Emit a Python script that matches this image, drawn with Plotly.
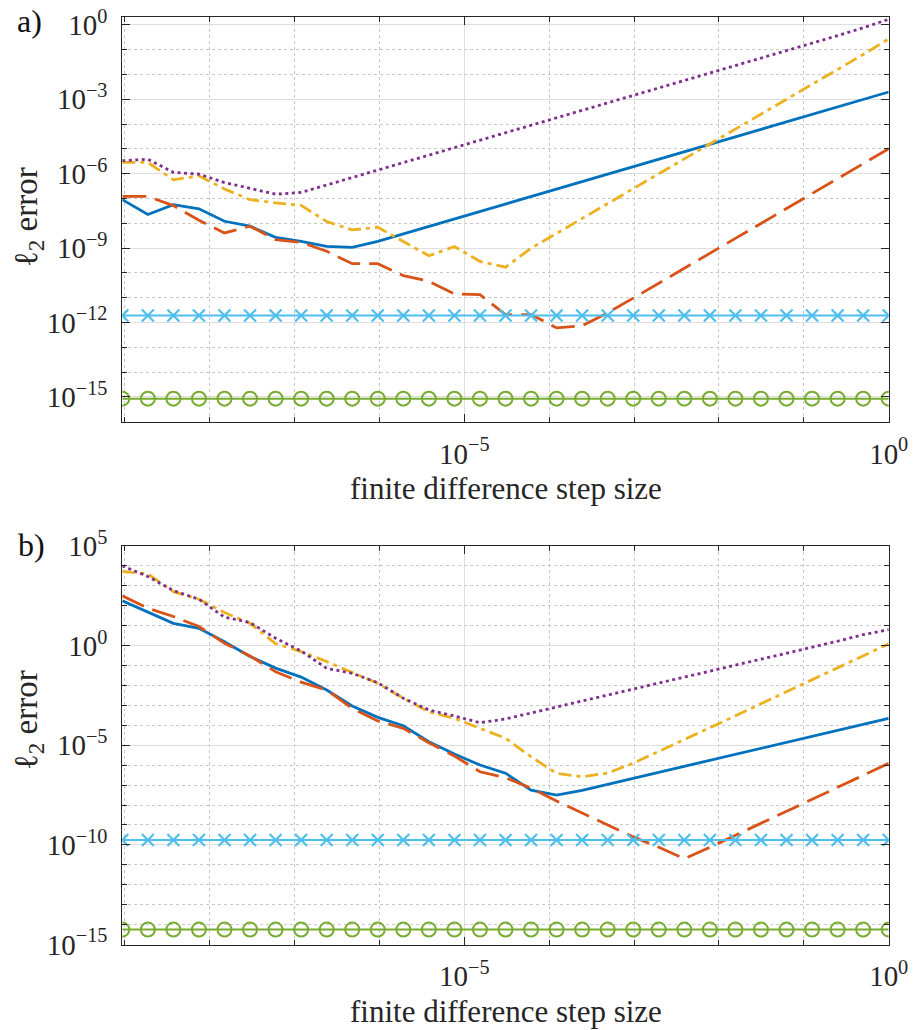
import numpy as np
import plotly.graph_objects as go

# ---------------- data ----------------
# finite difference step sizes h = 2^p
step_pow2 = [-30, -29, -28, -27, -26, -25, -24, -23, -22, -21, -20, -19, -18, -17, -16,
             -15, -14, -13, -12, -11, -10, -9, -8, -7, -6, -5, -4, -3, -2, -1, 0]

# panel a) log10 of l2 error
a_blue = [-7.05, -7.65, -7.25, -7.42, -7.92, -8.12, -8.57, -8.73, -8.93, -8.97, -8.73, -8.43,
          -8.13, -7.83, -7.53, -7.23, -6.93, -6.62, -6.32, -6.02, -5.72, -5.42, -5.12, -4.82,
          -4.52, -4.22, -3.92, -3.62, -3.31, -3.01, -2.71]
a_orange = [-6.92, -6.92, -7.29, -7.88, -8.39, -8.12, -8.66, -8.77, -9.13, -9.63, -9.63, -10.11,
            -10.34, -10.85, -10.88, -11.68, -11.68, -12.22, -12.13, -11.61, -11.02, -10.41, -9.81,
            -9.21, -8.61, -8.01, -7.40, -6.80, -6.20, -5.60, -5.00]
a_yellow = [-5.55, -5.55, -6.25, -6.09, -6.62, -7.05, -7.18, -7.28, -7.93, -8.27, -8.16, -8.74,
            -9.31, -8.94, -9.54, -9.77, -9.01, -8.41, -7.81, -7.21, -6.61, -6.01, -5.40, -4.80,
            -4.20, -3.60, -3.00, -2.40, -1.80, -1.20, -0.57]
a_purple = [-5.48, -5.42, -5.95, -6.02, -6.36, -6.58, -6.83, -6.76, -6.46, -6.16, -5.86, -5.56,
            -5.26, -4.96, -4.66, -4.36, -4.06, -3.76, -3.46, -3.16, -2.86, -2.56, -2.26, -1.96,
            -1.66, -1.36, -1.06, -0.75, -0.44, -0.12, 0.22]
a_lightblue = [-11.72, -11.72, -11.72, -11.72, -11.72, -11.72, -11.72, -11.72, -11.72, -11.72,
               -11.72, -11.72, -11.72, -11.72, -11.72, -11.72, -11.72, -11.72, -11.72, -11.72,
               -11.72, -11.72, -11.72, -11.72, -11.72, -11.72, -11.72, -11.72, -11.72, -11.72,
               -11.72]
a_green = [-15.07, -15.07, -15.07, -15.07, -15.07, -15.07, -15.07, -15.07, -15.07, -15.07,
           -15.07, -15.07, -15.07, -15.07, -15.07, -15.07, -15.07, -15.07, -15.07, -15.07,
           -15.07, -15.07, -15.07, -15.07, -15.07, -15.07, -15.07, -15.07, -15.07, -15.07,
           -15.07]

# panel b) log10 of l2 error
b_blue = [2.25, 1.68, 1.12, 0.87, 0.19, -0.55, -1.13, -1.58, -2.23, -3.03, -3.60, -4.02,
          -4.82, -5.44, -5.99, -6.40, -7.25, -7.50, -7.26, -6.96, -6.66, -6.36, -6.05, -5.75,
          -5.45, -5.15, -4.85, -4.55, -4.25, -3.95, -3.65]
b_orange = [2.50, 1.88, 1.46, 0.96, 0.12, -0.52, -1.31, -1.83, -2.23, -3.15, -3.78, -4.15,
            -4.87, -5.54, -6.33, -6.63, -7.15, -7.80, -8.40, -9.00, -9.60, -10.12, -10.70,
            -10.12, -9.52, -8.92, -8.31, -7.71, -7.11, -6.51, -5.91]
b_yellow = [3.72, 3.60, 2.71, 2.33, 1.66, 1.12, 0.10, -0.30, -0.80, -1.36, -1.89, -2.64,
            -3.32, -3.65, -4.15, -4.65, -5.58, -6.41, -6.58, -6.40, -5.90, -5.32, -4.72,
            -4.12, -3.52, -2.92, -2.32, -1.72, -1.11, -0.51, 0.09]
b_purple = [4.00, 3.47, 2.76, 2.33, 1.43, 1.16, 0.37, -0.27, -1.14, -1.39, -1.86, -2.64,
            -3.23, -3.53, -3.87, -3.68, -3.38, -3.08, -2.80, -2.50, -2.20, -1.90, -1.60,
            -1.30, -1.00, -0.70, -0.40, -0.10, 0.22, 0.55, 0.80]
b_lightblue = [-9.76, -9.76, -9.76, -9.76, -9.76, -9.76, -9.76, -9.76, -9.76, -9.76, -9.76,
               -9.76, -9.76, -9.76, -9.76, -9.76, -9.76, -9.76, -9.76, -9.76, -9.76, -9.76,
               -9.76, -9.76, -9.76, -9.76, -9.76, -9.76, -9.76, -9.76, -9.76]
b_green = [-14.25, -14.25, -14.25, -14.25, -14.25, -14.25, -14.25, -14.25, -14.25, -14.25,
           -14.25, -14.25, -14.25, -14.25, -14.25, -14.25, -14.25, -14.25, -14.25, -14.25,
           -14.25, -14.25, -14.25, -14.25, -14.25, -14.25, -14.25, -14.25, -14.25, -14.25,
           -14.25]

x_major = [1e-5, 1.0]
x_major_text = ['10<sup>−5</sup>', '10<sup>0</sup>']
a_y_major_exp = [0, -3, -6, -9, -12, -15]
b_y_major_exp = [5, 0, -5, -10, -15]

# ---------------- figure ----------------
h = np.power(2.0, step_pow2)

C_BLUE = '#0072BD'
C_ORANGE = '#D95319'
C_YELLOW = '#EDB120'
C_PURPLE = '#7E2F8E'
C_LBLUE = '#4DBEEE'
C_GREEN = '#77AC30'
AX = '#262626'
FONT = 'Liberation Serif'

W, H = 914, 1030


def px_x(x):
    return x / W


def px_y(y):
    return 1 - y / H


def add_panel(fig, xa, ya, blue, orange, yellow, purple, lblue, green):
    kw = dict(xaxis=xa, yaxis=ya, showlegend=False, hoverinfo='skip')
    fig.add_trace(go.Scatter(x=h, y=np.power(10.0, blue), mode='lines',
                             line=dict(color=C_BLUE, width=2.8), **kw))
    fig.add_trace(go.Scatter(x=h, y=np.power(10.0, orange), mode='lines',
                             line=dict(color=C_ORANGE, width=2.8, dash='24px,9px'), **kw))
    fig.add_trace(go.Scatter(x=h, y=np.power(10.0, yellow), mode='lines',
                             line=dict(color=C_YELLOW, width=2.8, dash='13px,5px,4px,5px'), **kw))
    fig.add_trace(go.Scatter(x=h, y=np.power(10.0, purple), mode='lines',
                             line=dict(color=C_PURPLE, width=2.8, dash='3px,3.5px'), **kw))
    fig.add_trace(go.Scatter(x=h, y=np.power(10.0, lblue), mode='lines+markers',
                             line=dict(color=C_LBLUE, width=2),
                             marker=dict(symbol='x-thin', size=12,
                                         line=dict(color=C_LBLUE, width=2.2)), **kw))
    fig.add_trace(go.Scatter(x=h, y=np.power(10.0, green), mode='lines+markers',
                             line=dict(color=C_GREEN, width=2),
                             marker=dict(symbol='circle-open', size=14, color=C_GREEN,
                                         line=dict(color=C_GREEN, width=2)), **kw))


fig = go.Figure()
add_panel(fig, 'x', 'y', a_blue, a_orange, a_yellow, a_purple, a_lightblue, a_green)
add_panel(fig, 'x2', 'y2', b_blue, b_orange, b_yellow, b_purple, b_lightblue, b_green)

x_dom = [px_x(122.3), px_x(888.7)]
a_dom = [px_y(421.7), px_y(17.3)]
b_dom = [px_y(944.5), px_y(546.0)]

tickfont = dict(family=FONT, size=29, color=AX)
x_minor_vals = [10.0 ** e for e in range(-9, 0) if e != -5]


def xaxis_dict(anchor):
    return dict(type='log', domain=x_dom, anchor=anchor, automargin=False,
                range=[np.log10(2.0 ** -30), 0], ticklabeloverflow='allow',
                tickmode='array', tickvals=x_major, ticktext=x_major_text,
                ticks='inside', ticklen=8, tickcolor=AX, tickwidth=1,
                showline=True, linecolor=AX, linewidth=1, mirror='ticks',
                showgrid=True, gridcolor='#dedede', gridwidth=1.2, zeroline=False,
                tickfont=tickfont, ticklabelstandoff=6,
                minor=dict(tickmode='array', tickvals=x_minor_vals, ticks='inside',
                           ticklen=5, tickcolor=AX, tickwidth=1, showgrid=True,
                           gridcolor='#c8c8c8', gridwidth=1, griddash='3px,3px'))


def yaxis_dict(anchor, dom, rng, major_exp):
    lo, hi = int(np.floor(rng[0])), int(np.ceil(rng[1]))
    minor_vals = [10.0 ** e for e in range(lo, hi + 1) if e not in major_exp]
    return dict(type='log', domain=dom, anchor=anchor, range=rng, automargin=False,
                ticklabeloverflow='allow',
                tickmode='array', tickvals=[10.0 ** e for e in major_exp],
                ticktext=['10<sup>%s</sup>' % (str(e).replace('-', '−')) for e in major_exp],
                ticks='inside', ticklen=8, tickcolor=AX, tickwidth=1,
                showline=True, linecolor=AX, linewidth=1, mirror='ticks',
                showgrid=True, gridcolor='#dedede', gridwidth=1.2, zeroline=False,
                tickfont=tickfont, ticklabelstandoff=8,
                minor=dict(tickmode='array', tickvals=minor_vals, ticks='inside',
                           ticklen=5, tickcolor=AX, tickwidth=1, showgrid=True,
                           gridcolor='#c8c8c8', gridwidth=1, griddash='3px,3px'))


fig.update_layout(
    template='none',
    width=W, height=H,
    margin=dict(l=0, r=0, t=0, b=0, autoexpand=False),
    paper_bgcolor='white', plot_bgcolor='white',
    font=dict(family=FONT, color=AX),
    xaxis=xaxis_dict('y'),
    yaxis=yaxis_dict('x', a_dom, [-16.0, np.log10(2.0)], a_y_major_exp),
    xaxis2=xaxis_dict('y2'),
    yaxis2=yaxis_dict('x2', b_dom, [-15.0, 5.0], b_y_major_exp),
)

ann_font = dict(family=FONT, size=31, color=AX)
ylab_font = dict(family=FONT, size=33, color=AX)
annotations = [
    dict(text='a)', x=px_x(30), y=px_y(21), showarrow=False, xref='paper', yref='paper',
         xanchor='center', yanchor='middle', font=dict(family=FONT, size=32, color='#111')),
    dict(text='b)', x=px_x(31), y=px_y(545), showarrow=False, xref='paper', yref='paper',
         xanchor='center', yanchor='middle', font=dict(family=FONT, size=32, color='#111')),
    dict(text='ℓ<sub>2</sub> error', x=px_x(28), y=px_y(217), textangle=-90, showarrow=False,
         xref='paper', yref='paper', xanchor='center', yanchor='middle', font=ylab_font),
    dict(text='ℓ<sub>2</sub> error', x=px_x(28), y=px_y(720), textangle=-90, showarrow=False,
         xref='paper', yref='paper', xanchor='center', yanchor='middle', font=ylab_font),
    dict(text='finite difference step size', x=px_x(505.5), y=px_y(489), showarrow=False,
         xref='paper', yref='paper', xanchor='center', yanchor='middle', font=ann_font),
    dict(text='finite difference step size', x=px_x(505.5), y=px_y(1011), showarrow=False,
         xref='paper', yref='paper', xanchor='center', yanchor='middle', font=ann_font),
]
fig.update_layout(annotations=annotations)

# remove the browser's default 8px page margin so the figure fills the window exactly
fig.write_html('out.html', config={'displayModeBar': False},
               post_script="document.body.style.margin='0';document.body.style.padding='0';")
